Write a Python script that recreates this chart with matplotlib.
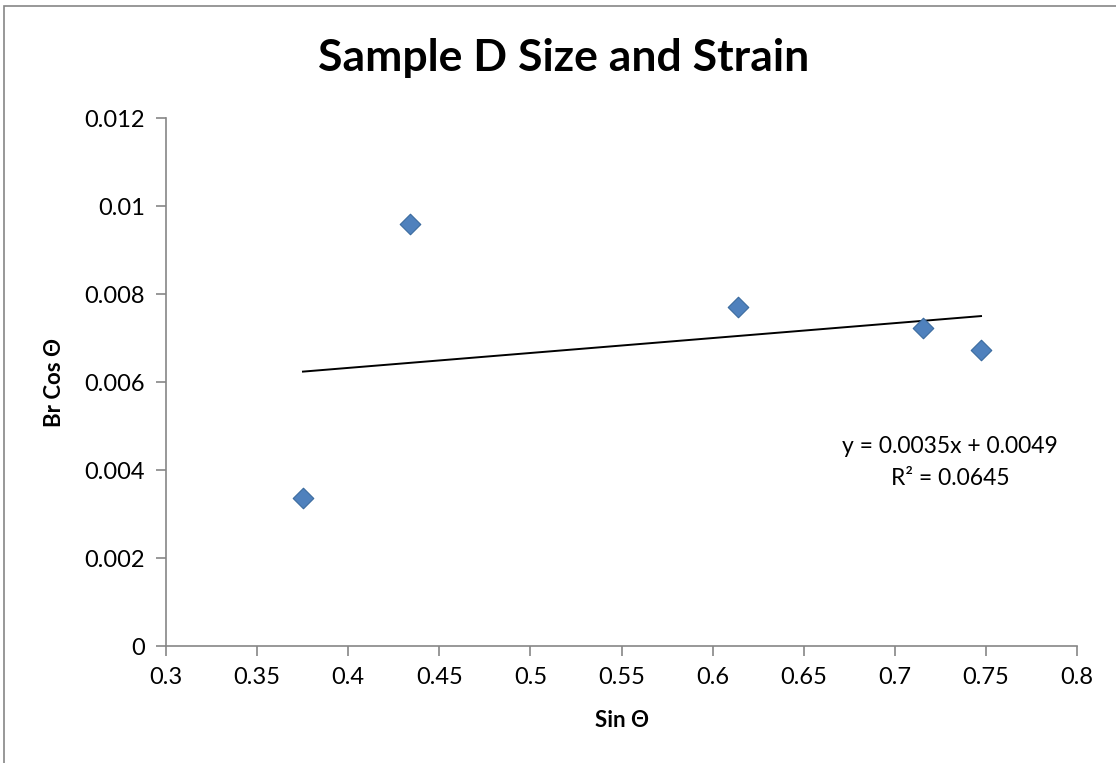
import numpy as np
import matplotlib.pyplot as plt
from matplotlib.patches import Rectangle
from matplotlib.ticker import FuncFormatter

# data
sin_theta = [0.3752, 0.4339, 0.6139, 0.7155, 0.7473]
br_cos_theta = [0.00336, 0.00959, 0.00770, 0.00723, 0.00673]

x_ticks = [0.3, 0.35, 0.4, 0.45, 0.5, 0.55, 0.6, 0.65, 0.7, 0.75, 0.8]
y_ticks = [0, 0.002, 0.004, 0.006, 0.008, 0.01, 0.012]

FONT = ['Lato', 'DejaVu Sans']
GRAY = '#868686'


def main():
    plt.rcParams['font.family'] = FONT
    fig = plt.figure(figsize=(11.16, 7.63), dpi=100)
    ax = fig.add_axes([0.1487, 0.1533, 0.8164, 0.692])

    # outer chart border (only left/top visible in the reference)
    fig.patches.append(Rectangle((0.004, -0.01), 1.2, 1.002, transform=fig.transFigure,
                                 fill=False, edgecolor=GRAY, lw=1.2))

    ax.scatter(sin_theta, br_cos_theta, marker='D', s=110, color='#4F81BD',
               edgecolors='#3A6A9E', linewidths=0.8, zorder=3)

    # linear trendline
    slope, icpt = np.polyfit(sin_theta, br_cos_theta, 1)
    xs = np.array([min(sin_theta), max(sin_theta)])
    ax.plot(xs, slope * xs + icpt, color='black', lw=1.4, zorder=2)

    ax.text(0.7303, 0.00453, 'y = 0.0035x + 0.0049', ha='center', va='center', fontsize=16.5)
    ax.text(0.7303, 0.00380, 'R² = 0.0645', ha='center', va='center', fontsize=16.5)

    ax.set_xlim(0.3, 0.8)
    ax.set_ylim(0, 0.012)
    ax.set_xticks(x_ticks)
    ax.set_yticks(y_ticks)
    ax.xaxis.set_major_formatter(FuncFormatter(lambda v, p: f'{v:g}'))
    ax.yaxis.set_major_formatter(FuncFormatter(lambda v, p: f'{v:g}'))

    for s in ['top', 'right']:
        ax.spines[s].set_visible(False)
    for s in ['left', 'bottom']:
        ax.spines[s].set_color(GRAY)
        ax.spines[s].set_linewidth(1.2)
    ax.tick_params(axis='both', direction='out', length=7, width=1.2, color=GRAY,
                   labelsize=17, pad=8)

    ax.set_xlabel('Sin Θ', fontsize=16, fontweight='bold', labelpad=16)
    ax.set_ylabel('Br Cos Θ', fontsize=16, fontweight='bold', labelpad=14)
    fig.text(0.505, 0.924, 'Sample D Size and Strain', ha='center', va='center',
             fontsize=32, fontweight='bold')

    plt.savefig('out.png', dpi=100)


if __name__ == "__main__":
    main()
